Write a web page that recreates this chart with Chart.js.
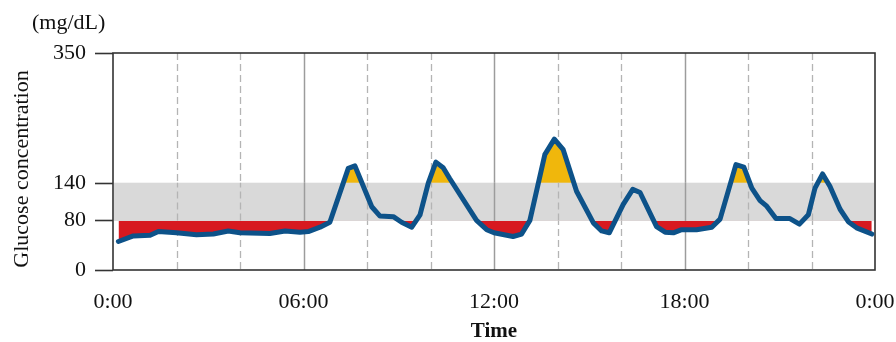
<!DOCTYPE html>
<html>
<head>
<meta charset="UTF-8">
<title>Glucose concentration</title>
<script src="https://cdn.jsdelivr.net/npm/chart.js@4.4.1/dist/chart.umd.min.js"></script>
<style>
    html, body { margin: 0; padding: 0; background: #fff; }
</style>
</head>
<body>
<canvas id="glucose-chart" width="896" height="342"></canvas>

<script>
    // readings over one day (hour of day, mg/dL)
    var hours = [0.17, 0.64, 1.17, 1.43, 2.0, 2.63, 3.16, 3.63, 4.0, 4.94, 5.42, 5.89, 6.15, 6.52, 6.83,
        7.41, 7.62, 8.15, 8.41, 8.83, 9.09, 9.41, 9.67, 9.93, 10.17, 10.4, 10.6, 11.45, 11.77, 12.0,
        12.6, 12.87, 13.13, 13.6, 13.9, 14.18, 14.6, 15.13, 15.39, 15.63, 16.07, 16.37, 16.6, 17.12,
        17.39, 17.65, 17.91, 18.38, 18.86, 19.12, 19.62, 19.87, 20.12, 20.38, 20.59, 20.88, 21.32,
        21.62, 21.9, 22.11, 22.35, 22.58, 22.9, 23.16, 23.42, 23.9];
    var glucose = [46, 55, 56, 62, 60, 57, 58, 63, 60, 59, 63, 61, 62, 69, 77,
        164, 168, 102, 87, 86, 77, 69, 89, 140, 174, 165, 148, 80, 65, 60,
        54, 58, 80, 186, 211, 194, 127, 76, 63, 60, 106, 130, 125, 70,
        61, 60, 65, 65, 69, 82, 170, 166, 132, 112, 103, 83, 83,
        74, 89, 132, 155, 135, 98, 78, 68, 58];

    var yTicks = [0, 80, 140, 350];
    var xTicks = [0, 6, 12, 18, 24];
    var xTickLabels = ['0:00', '06:00', '12:00', '18:00', '0:00'];
    var solidHours = [6, 12, 18];
    var dashedHours = [2, 4, 8, 10, 14, 16, 20, 22];
    var targetLow = 80;
    var targetHigh = 140;

    var points = hours.map(function (h, i) {
        return { x: h, y: glucose[i] };
    });

    var serif = '"Liberation Serif", "Times New Roman", serif';

    function drawHourLines(chart, top, bottom) {
        var ctx = chart.ctx;
        var x = chart.scales.x;
        ctx.save();
        ctx.lineWidth = 1.5;
        ctx.strokeStyle = '#9c9c9c';
        solidHours.forEach(function (h) {
            var px = Math.round(x.getPixelForValue(h)) + 0.5;
            ctx.beginPath();
            ctx.moveTo(px, top);
            ctx.lineTo(px, bottom);
            ctx.stroke();
        });
        ctx.strokeStyle = '#b4b4b4';
        ctx.lineWidth = 1.3;
        ctx.setLineDash([7, 4]);
        ctx.lineDashOffset = -(top - chart.chartArea.top);
        dashedHours.forEach(function (h) {
            var px = Math.round(x.getPixelForValue(h)) + 0.5;
            ctx.beginPath();
            ctx.moveTo(px, top);
            ctx.lineTo(px, bottom);
            ctx.stroke();
        });
        ctx.restore();
    }

    // vertical grid and frame under the fills, grey target band over them
    var backdrop = {
        id: 'backdrop',
        beforeDatasetsDraw: function (chart) {
            var ctx = chart.ctx;
            var area = chart.chartArea;
            drawHourLines(chart, area.top, area.bottom);
            ctx.save();
            ctx.strokeStyle = '#333';
            ctx.lineWidth = 1.6;
            ctx.strokeRect(area.left, area.top, area.right - area.left, area.bottom - area.top);
            ctx.restore();
        },
        beforeDatasetDraw: function (chart, args) {
            if (args.index !== 0) return;
            var ctx = chart.ctx;
            var area = chart.chartArea;
            var y = chart.scales.y;
            var top = y.getPixelForValue(targetHigh) - 0.5;
            var bottom = y.getPixelForValue(targetLow) + 0.5;
            ctx.save();
            ctx.fillStyle = '#d9d9d9';
            ctx.fillRect(area.left + 1, top, area.right - area.left - 2, bottom - top);
            ctx.restore();
            drawHourLines(chart, top, bottom);
        },
        afterDraw: function (chart) {
            var ctx = chart.ctx;
            ctx.save();
            ctx.fillStyle = '#111';
            ctx.font = '22px ' + serif;
            ctx.textBaseline = 'middle';
            ctx.textAlign = 'left';
            ctx.fillText('(mg/dL)', 32, 23);
            ctx.translate(22, 169);
            ctx.rotate(-Math.PI / 2);
            ctx.textAlign = 'center';
            ctx.fillText('Glucose concentration', 0, 0);
            ctx.restore();
        }
    };

    var chart = new Chart(document.getElementById('glucose-chart'), {
        type: 'line',
        data: {
            datasets: [{
                data: points,
                borderColor: '#0d5289',
                borderWidth: 5,
                borderJoinStyle: 'round',
                borderCapStyle: 'round',
                pointRadius: 0,
                tension: 0,
                fill: false
            }, {
                data: points,
                borderWidth: 0,
                pointRadius: 0,
                tension: 0,
                fill: { target: { value: targetHigh }, above: '#f0b70c', below: 'transparent' }
            }, {
                data: points,
                borderWidth: 0,
                pointRadius: 0,
                tension: 0,
                fill: { target: { value: targetLow }, above: 'transparent', below: '#d71920' }
            }]
        },
        options: {
            responsive: false,
            animation: false,
            layout: { padding: { top: 53, right: 21, bottom: 0, left: 0 } },
            plugins: {
                legend: { display: false },
                tooltip: { enabled: false }
            },
            scales: {
                x: {
                    type: 'linear',
                    min: 0,
                    max: 24,
                    afterBuildTicks: function (scale) {
                        scale.ticks = xTicks.map(function (v) { return { value: v }; });
                    },
                    afterFit: function (scale) {
                        scale.height = 72;
                        scale.paddingLeft = 0;
                        scale.paddingRight = 0;
                    },
                    ticks: {
                        color: '#111',
                        padding: 11,
                        maxRotation: 0,
                        autoSkip: false,
                        font: { family: serif, size: 22 },
                        callback: function (value, index) { return xTickLabels[index]; }
                    },
                    grid: { display: false },
                    border: { display: false },
                    title: {
                        display: true,
                        text: 'Time',
                        color: '#111',
                        padding: { top: 0, bottom: -2 },
                        font: { family: serif, size: 21, weight: 'bold' }
                    }
                },
                y: {
                    min: 0,
                    max: 350,
                    afterBuildTicks: function (scale) {
                        scale.ticks = yTicks.map(function (v) { return { value: v }; });
                    },
                    afterFit: function (scale) {
                        scale.width = 113;
                        scale.paddingTop = 0;
                        scale.paddingBottom = 0;
                    },
                    ticks: {
                        color: '#111',
                        padding: 9,
                        font: { family: serif, size: 22 }
                    },
                    grid: {
                        drawOnChartArea: false,
                        tickLength: 18,
                        tickColor: '#333',
                        tickWidth: 1.6
                    },
                    border: { display: false }
                }
            }
        },
        plugins: [backdrop]
    });
</script>
</body>
</html>
